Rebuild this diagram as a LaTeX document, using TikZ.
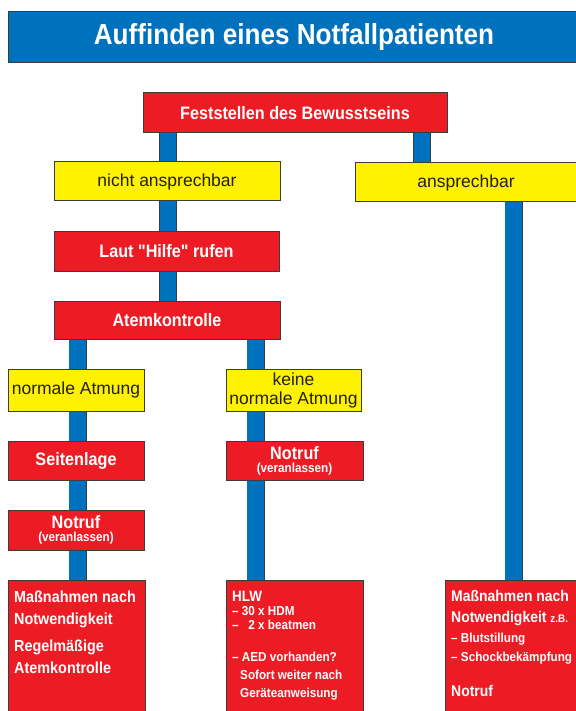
\documentclass[tikz,border=0pt]{standalone}
\usepackage{fontspec}
\setmainfont{Liberation Sans}
\newfontfamily\cond[FakeStretch=0.9]{Liberation Sans}
\usetikzlibrary{backgrounds}
\definecolor{nred}{HTML}{ED1C24}
\definecolor{nblue}{HTML}{0071BC}
\definecolor{nyel}{HTML}{FFF200}
\definecolor{nline}{HTML}{3C3C3C}
\definecolor{ntext}{HTML}{231F20}
\tikzset{
  box/.style={draw=nline, line width=1pt, inner sep=0pt, anchor=center},
  redbox/.style={box, fill=nred, text=white, font=\cond\bfseries\fontsize{18}{20}\selectfont},
  yelbox/.style={box, fill=nyel, text=ntext, font=\fontsize{17.5}{19}\selectfont, align=center},
  conn/.style={draw=nline, line width=0.9pt, double=nblue, double distance=16.2pt},
  txt/.style={anchor=north west, inner sep=0pt, text=white, align=left},
}
\begin{document}
\begin{tikzpicture}[x=1pt,y=-1pt]
\useasboundingbox (0,0) rectangle (575,711);
% title
\node[box, fill=nblue, text=white, font=\cond\bfseries\fontsize{29}{32}\selectfont,
      minimum width=572pt, minimum height=51pt] (title) at (294,37.5) {Auffinden eines Notfallpatienten};
% level 1
\node[redbox, minimum width=304pt, minimum height=40pt] (fest) at (295,113) {Feststellen des Bewusstseins};
\node[yelbox, minimum width=226pt, minimum height=39pt] (nicht) at (167,181.5) {nicht ansprechbar};
\node[yelbox, minimum width=222pt, minimum height=39pt] (ansp) at (466,182.5) {ansprechbar};
\node[redbox, minimum width=225pt, minimum height=40pt] (laut) at (166.5,251) {Laut "Hilfe" rufen};
\node[redbox, minimum width=226pt, minimum height=38pt] (atem) at (167,320) {Atemkontrolle};
% left column
\node[yelbox, minimum width=136pt, minimum height=42pt] (normal) at (76,390) {normale Atmung};
\node[redbox, minimum width=136pt, minimum height=39pt] (seiten) at (76,460.5) {Seitenlage};
\node[redbox, align=center, font=\cond\bfseries\fontsize{13}{13}\selectfont,
      minimum width=136pt, minimum height=40pt] (notrufL) at (76,530)
      {{\fontsize{18}{13}\selectfont Notruf}\\(veranlassen)};
\node[box, fill=nred, minimum width=137pt, minimum height=140pt] (massL) at (76.5,650) {};
% middle column
\node[yelbox, minimum width=135pt, minimum height=42pt] (keine) at (293.5,390) {keine\\normale Atmung};
\node[redbox, align=center, font=\cond\bfseries\fontsize{13}{13}\selectfont,
      minimum width=137pt, minimum height=39pt] (notrufR) at (294.5,460.5)
      {{\fontsize{18}{13}\selectfont Notruf}\\(veranlassen)};
\node[box, fill=nred, minimum width=137pt, minimum height=140pt] (hlw) at (294.5,650) {};
% right column
\node[box, fill=nred, minimum width=140pt, minimum height=140pt] (massR) at (515,650) {};
% texts in the lower boxes
\node[txt, font=\cond\bfseries\fontsize{16}{22}\selectfont] (massLt) at (14,590.4)
  {Maßnahmen nach\\ Notwendigkeit\\[5pt] Regelmäßige\\ Atemkontrolle};
\node[txt, font=\cond\bfseries\fontsize{13}{14}\selectfont] (hlwt) at (232,591.3)
  {{\fontsize{15}{14}\selectfont HLW}\\ – 30 x HDM\\ – \hspace*{6.5pt}2 x beatmen\\[18pt]
   – AED vorhanden?\\[4pt] \hspace*{8pt}Sofort weiter nach\\[4pt] \hspace*{8pt}Geräteanweisung};
\node[txt, font=\cond\bfseries\fontsize{15.5}{20}\selectfont] (massRt) at (451,589.9)
  {Maßnahmen nach\\[1pt] Notwendigkeit {\fontsize{11}{12}\selectfont z.B.}\\
   {\fontsize{13}{14}\selectfont – Blutstillung}\\[-1pt]
   {\fontsize{13}{14}\selectfont – Schockbekämpfung}\\[15pt] Notruf};
% connector x positions
\coordinate (xa) at (168,0);
\coordinate (xb) at (422,0);
\coordinate (xc) at (77.5,0);
\coordinate (xd) at (255.5,0);
\coordinate (xe) at (513.5,0);
\begin{scope}[on background layer]
  \draw[conn] (fest.south -| xa) -- (nicht.north -| xa);
  \draw[conn] (fest.south -| xb) -- (ansp.north -| xb);
  \draw[conn] (nicht.south -| xa) -- (laut.north -| xa);
  \draw[conn] (laut.south -| xa) -- (atem.north -| xa);
  \draw[conn] (atem.south -| xc) -- (normal.north -| xc);
  \draw[conn] (atem.south -| xd) -- (keine.north -| xd);
  \draw[conn] (normal.south -| xc) -- (seiten.north -| xc);
  \draw[conn] (seiten.south -| xc) -- (notrufL.north -| xc);
  \draw[conn] (notrufL.south -| xc) -- (massL.north -| xc);
  \draw[conn] (keine.south -| xd) -- (notrufR.north -| xd);
  \draw[conn] (notrufR.south -| xd) -- (hlw.north -| xd);
  \draw[conn] (ansp.south -| xe) -- (massR.north -| xe);
\end{scope}
\end{tikzpicture}
\end{document}
